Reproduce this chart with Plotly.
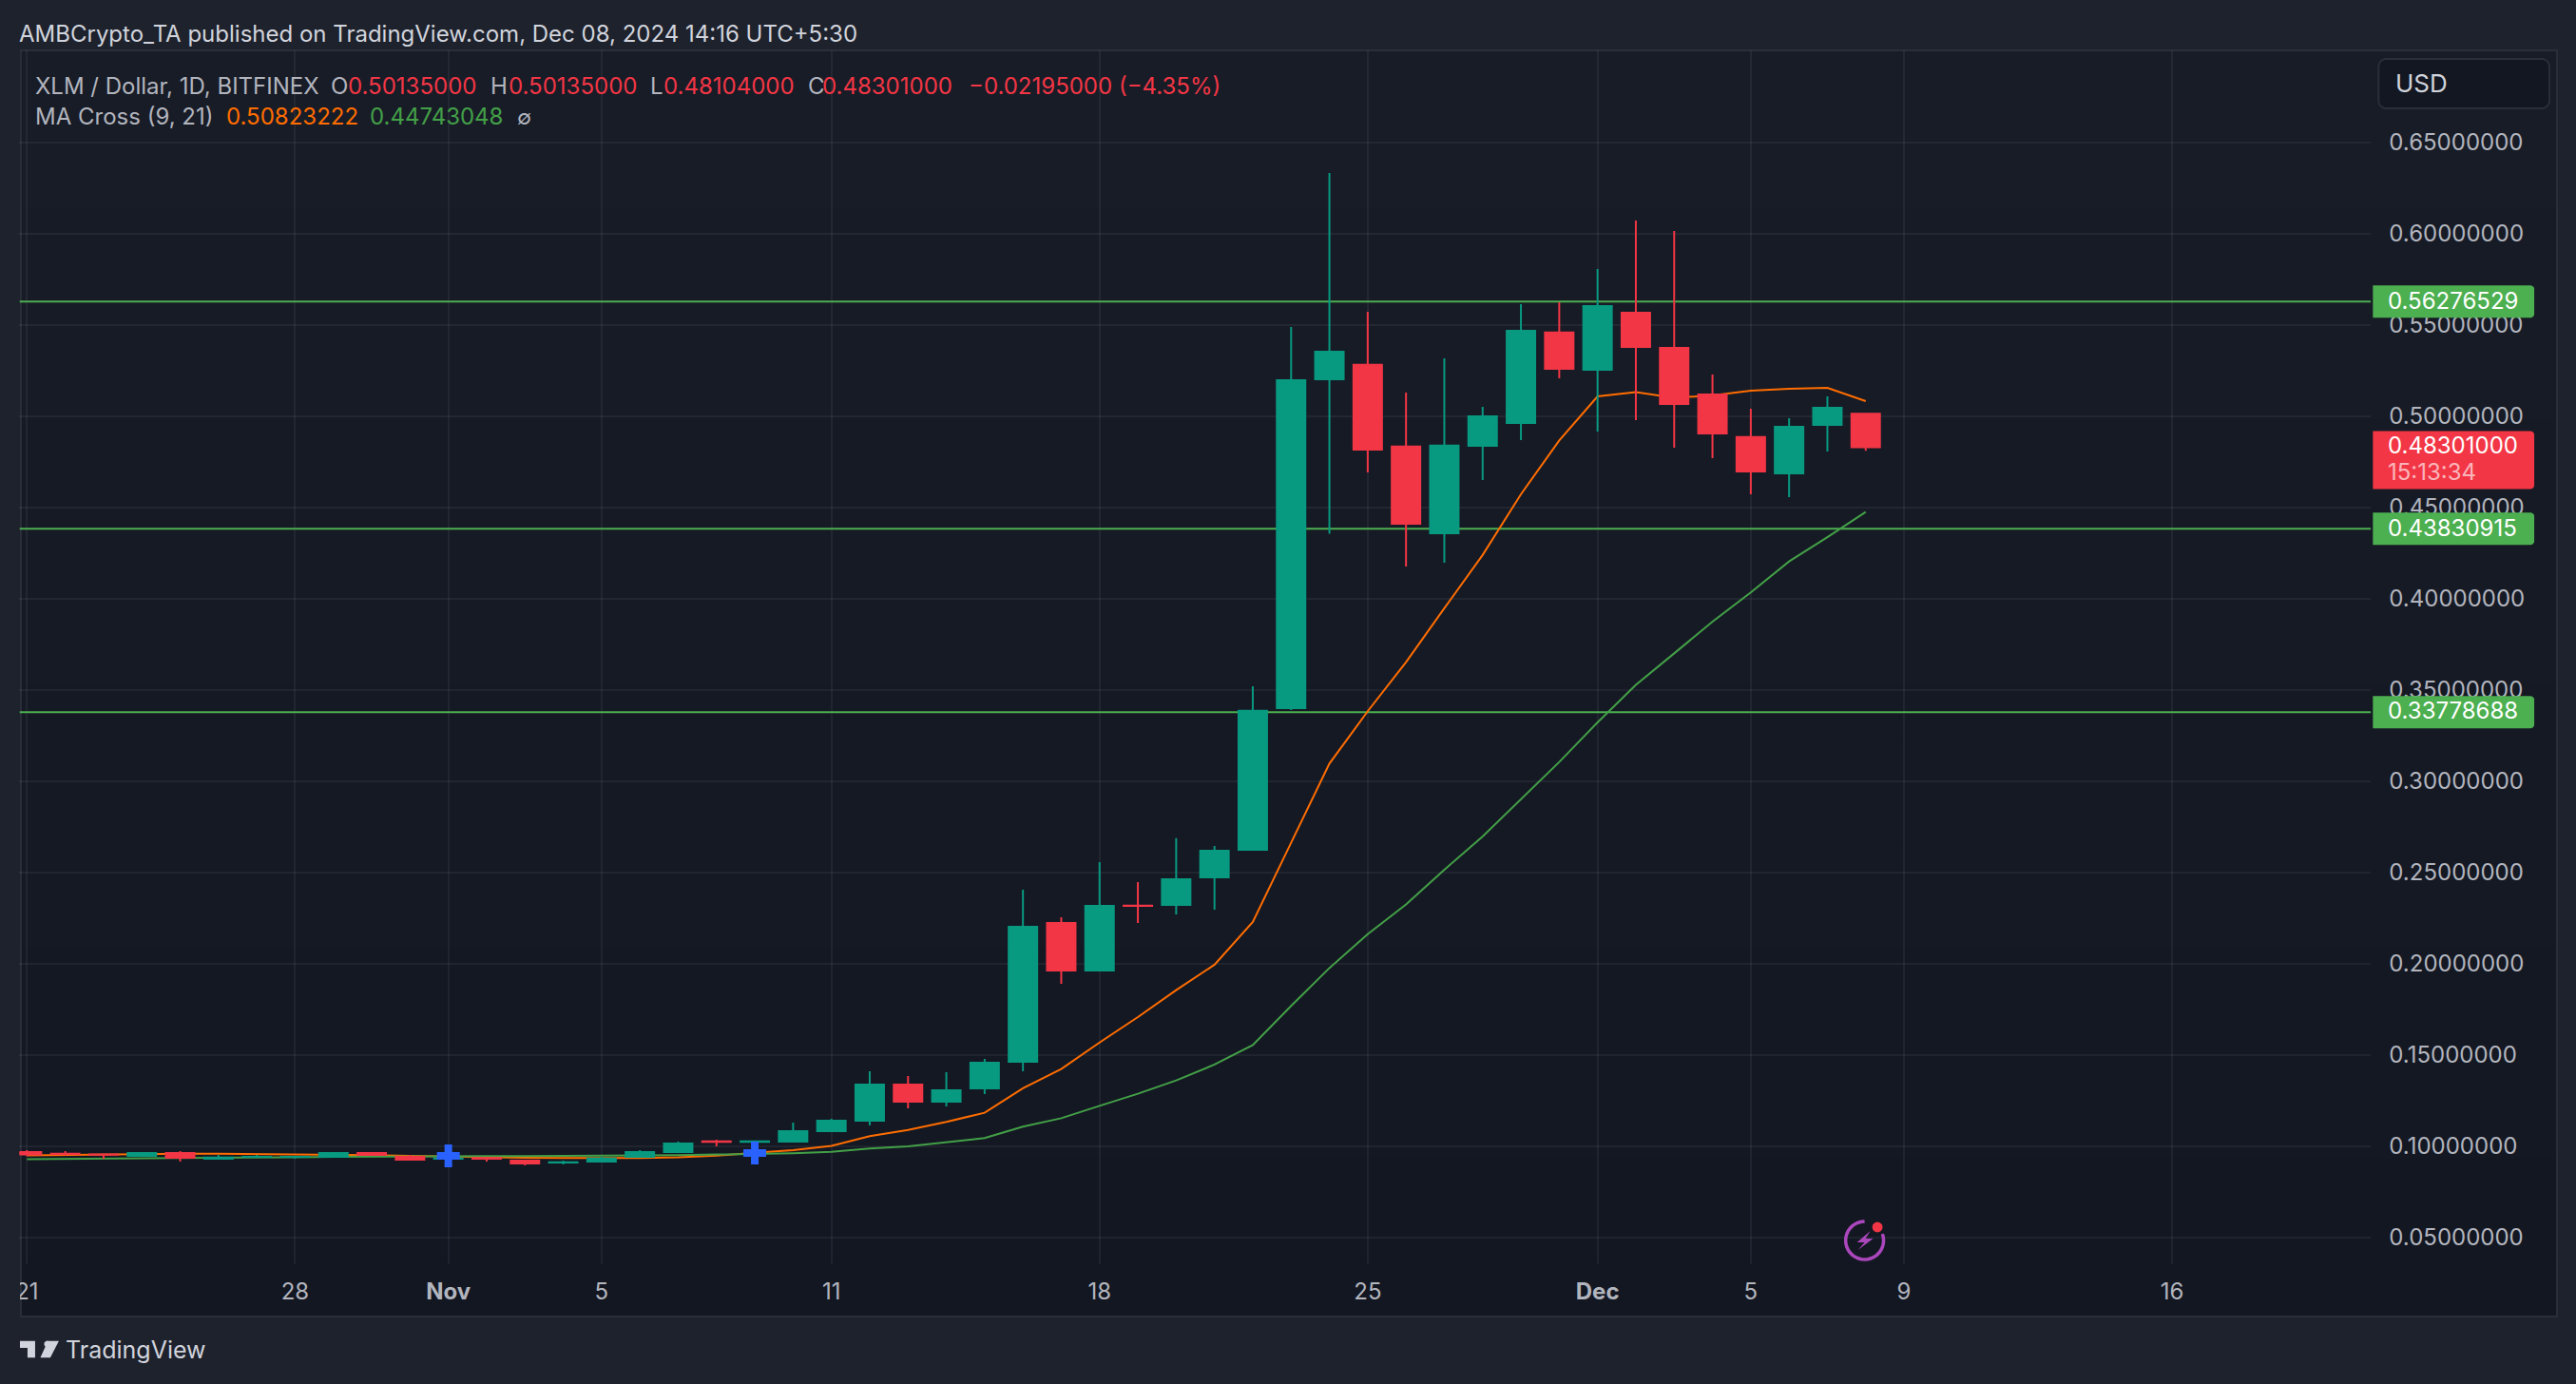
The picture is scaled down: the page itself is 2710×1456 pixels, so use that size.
import math
import plotly.graph_objects as go

W, H = 2710, 1456

dates = ["2024-10-21","2024-10-22","2024-10-23","2024-10-24","2024-10-25","2024-10-26","2024-10-27",
         "2024-10-28","2024-10-29","2024-10-30","2024-10-31","2024-11-01","2024-11-02","2024-11-03",
         "2024-11-04","2024-11-05","2024-11-06","2024-11-07","2024-11-08","2024-11-09","2024-11-10",
         "2024-11-11","2024-11-12","2024-11-13","2024-11-14","2024-11-15","2024-11-16","2024-11-17",
         "2024-11-18","2024-11-19","2024-11-20","2024-11-21","2024-11-22","2024-11-23","2024-11-24",
         "2024-11-25","2024-11-26","2024-11-27","2024-11-28","2024-11-29","2024-11-30","2024-12-01",
         "2024-12-02","2024-12-03","2024-12-04","2024-12-05","2024-12-06","2024-12-07","2024-12-08"]
opens = [.0968,.0958,.0955,.0947,.0963,.0931,.0941,.0941,.0941,.0963,.0942,.0931,.0935,.0921,
         .0910,.0915,.0942,.0967,.1026,.1024,.1025,.1082,.1139,.1338,.1243,.1316,.1462,.2223,
         .1962,.2318,.2322,.2473,.2624,.3400,.5202,.5281,.4833,.4358,.4837,.4962,.5458,.5254,
         .5567,.5374,.5119,.4885,.4686,.4952,.50135]
highs = [.0978,.0973,.0959,.0968,.0973,.0952,.0952,.0947,.0968,.0968,.0952,.0942,.0940,.0926,
         .0921,.0942,.0978,.1025,.1035,.1030,.1129,.1150,.1410,.1384,.1405,.1478,.2405,.2254,
         .2556,.2447,.2687,.2645,.3520,.5489,.6332,.5572,.5129,.5317,.5051,.5614,.5624,.5806,
         .6072,.6015,.5228,.5041,.4989,.5108,.50135]
lows = [.0945,.0950,.0930,.0942,.0916,.0926,.0936,.0931,.0936,.0947,.0921,.0911,.0916,.0895,
        .0900,.0910,.0937,.0962,.0999,.0999,.1020,.1077,.1114,.1207,.1218,.1285,.1410,.1890,
        .1957,.2223,.2270,.2296,.2619,.3390,.4355,.4692,.4176,.4197,.4650,.4869,.5207,.4916,
        .4978,.4827,.4770,.4572,.4556,.4806,.48104]
closes = [.0954,.0957,.0953,.0963,.0936,.0937,.0942,.0942,.0963,.0952,.0926,.0932,.0931,.0905,
          .0911,.0932,.0968,.1015,.1024,.1026,.1082,.1140,.1338,.1243,.1306,.1457,.2202,.1962,
          .2317,.2316,.2463,.2619,.3385,.5197,.5353,.4817,.4410,.4838,.4999,.5468,.5259,.5603,
          .5379,.5067,.4905,.4697,.4942,.5046,.48301]
ma9 = [.0950,.0953,.0955,.0957,.0959,.0958,.0957,.0955,.0953,.0951,.0947,.0943,.0940,.0936,
       .0935,.0934,.0935,.0939,.0948,.0964,.0978,.1002,.1055,.1089,.1133,.1183,.1317,.1423,
       .1568,.1707,.1855,.1994,.2228,.2662,.3096,.3383,.3652,.3947,.4239,.4572,.4867,.5108,
       .5131,.5100,.5114,.5140,.5150,.5155,.50823]
ma21 = [.0929,.0930,.0931,.0932,.0933,.0935,.0937,.0939,.0941,.0943,.0945,.0946,.0946,.0946,
        .0947,.0947,.0949,.0951,.0954,.0957,.0961,.0969,.0987,.0999,.1020,.1044,.1107,.1153,
        .1221,.1287,.1360,.1447,.1554,.1768,.1976,.2162,.2324,.2515,.2697,.2902,.3105,.3322,
        .3527,.3700,.3874,.4034,.4204,.4337,.44743]
level_values = [.56276529, .43830915, .33778688]
cross_dates = ["2024-11-01", "2024-11-09"]
cross_values = [.0947, .0962]
y_ticks = [.05,.10,.15,.20,.25,.30,.35,.40,.45,.50,.55,.60,.65]
x_tick_dates = ["2024-10-21","2024-10-28","2024-11-01","2024-11-05","2024-11-11","2024-11-18",
                "2024-11-25","2024-12-01","2024-12-05","2024-12-09","2024-12-16"]
x_tick_text = ["21","28","<b>Nov</b>","5","11","18","25","<b>Dec</b>","5","9","16"]

X_RANGE = ["2024-10-20 19:18", "2024-12-21 04:34"]
Y_RANGE = [0.0353, 0.7004]

BG = "#1e222d"
UP, DOWN = "#089981", "#F23645"
ORANGE, MAGREEN, LEVEL = "#FF6D00", "#43A047", "#4CAF50"
TXT, MUTED = "#d1d4dc", "#b2b5be"
FONT = "Inter, sans-serif"

px = lambda x: x / W
py = lambda y: 1 - y / H


def path(points, close=True):
    s = "M" + " L".join(f"{px(x):.6f},{py(y):.6f}" for x, y in points)
    return s + (" Z" if close else "")


def rounded(x0, y0, x1, y1, rl, rr):
    def arc(cx, cy, r, a0):
        return [(cx + r * math.cos(math.radians(a0 + i * 15)), cy + r * math.sin(math.radians(a0 + i * 15)))
                for i in range(7)] if r else [(cx, cy)]
    pts = arc(x0 + rl, y0 + rl, rl, 180) + arc(x1 - rr, y0 + rr, rr, 270) + arc(x1 - rr, y1 - rr, rr, 0) + arc(x0 + rl, y1 - rl, rl, 90)
    return path(pts)


shapes = []
# chart background gradient
BANDS = 24
for i in range(BANDS):
    t = i / (BANDS - 1)
    col = f"rgb({round(24 - 5 * t)},{round(28 - 5 * t)},{round(39 - 5 * t)})"
    y0 = 53 + (1385 - 53) * i / BANDS
    y1 = 53 + (1385 - 53) * (i + 1) / BANDS + 1
    shapes.append(dict(type="rect", xref="paper", yref="paper", x0=px(18), x1=px(2690), y0=py(y1), y1=py(y0),
                       fillcolor=col, line_width=0, layer="below"))
shapes.append(dict(type="rect", xref="paper", yref="paper", x0=px(18), x1=px(2690), y0=py(1385), y1=py(53),
                   line=dict(color="#2a2e39", width=2), fillcolor="rgba(0,0,0,0)", layer="below"))
# mask that clips the first date label at the chart edge
shapes.append(dict(type="rect", xref="paper", yref="paper", x0=0, x1=px(17), y0=py(1384), y1=py(1335),
                   fillcolor=BG, line_width=0, layer="above"))


def shp(d, fill, line=None, layer="above"):
    return dict(type="path", xref="paper", yref="paper", path=d, fillcolor=fill,
                line=dict(color=line or fill, width=2 if line else 0), layer=layer)


# price labels
for v in level_values:
    yc = 149.8 + (0.65 - v) * 1920
    shapes.append(shp(rounded(2496, yc - 17, 2666, yc + 17, 0, 4), LEVEL))
shapes.append(shp(rounded(2496, 453.5, 2666, 514.5, 0, 4), DOWN))
# currency button
shapes.append(shp(rounded(2502, 62, 2682, 114, 8, 8), "#131722", "#2a2e39"))
# TradingView logo
LOGO = "#d1d4dc"
shapes.append(shp(path([(17, 1410.7), (33, 1410.7), (33, 1428.3), (25, 1428.3), (25, 1418), (17, 1418)]), LOGO))
shapes.append(shp(path([(46 + 3.5 * math.cos(a / 12 * 2 * math.pi), 1414 + 3.5 * math.sin(a / 12 * 2 * math.pi)) for a in range(12)]), LOGO))
shapes.append(shp(path([(46.5, 1410.7), (58, 1410.7), (49, 1428.3), (38.5, 1428.3)]), LOGO))
# alert icon
arc = [(1960.5 + 20 * math.cos(math.radians(a)), 1305 + 20 * math.sin(math.radians(a))) for a in range(-20, 280, 10)]
shapes.append(dict(type="path", xref="paper", yref="paper", path=path(arc, close=False), line=dict(color="#AB47BC", width=3.5),
                   fillcolor="rgba(0,0,0,0)", layer="above"))
shapes.append(shp(path([(1966.5, 1295), (1952.5, 1307), (1960.5, 1307), (1953.5, 1315), (1969.5, 1303), (1961.5, 1303)]), "#AB47BC"))
shapes.append(shp(path([(1974 + 5.5 * math.cos(a / 12 * 2 * math.pi), 1291 + 5.5 * math.sin(a / 12 * 2 * math.pi)) for a in range(12)]), DOWN))

texts = [
    ("AMBCrypto_TA published on TradingView.com, Dec 08, 2024 14:16 UTC+5:30", 16.5, 35, TXT, 24),
    ("XLM / Dollar, 1D, BITFINEX", 33, 90, MUTED, 24),
    ("O", 344.5, 90, MUTED, 24), ("0.50135000", 362.5, 90, DOWN, 24),
    ("H", 513, 90, MUTED, 24), ("0.50135000", 531.5, 90, DOWN, 24),
    ("L", 681.5, 90, MUTED, 24), ("0.48104000", 695.5, 90, DOWN, 24),
    ("C", 847.5, 90, MUTED, 24), ("0.48301000", 862.5, 90, DOWN, 24),
    ("−0.02195000 (−4.35%)", 1017, 90, DOWN, 24),
    ("MA Cross (9, 21)", 33, 122.5, MUTED, 24),
    ("0.50823222", 234, 122.5, ORANGE, 24), ("0.44743048", 385.5, 122.5, MAGREEN, 24), ("∅", 540.5, 122.5, MUTED, 22),
    ("USD", 2519.5, 87, TXT, 26),
    ("0.56276529", 2511.5, 316, "#ffffff", 24), ("0.43830915", 2511.5, 555, "#ffffff", 24),
    ("0.33778688", 2511.5, 748, "#ffffff", 24),
    ("0.48301000", 2511.5, 468.5, "#ffffff", 24), ("15:13:34", 2511.5, 496.5, "rgba(255,255,255,0.65)", 24),
    ("TradingView", 65, 1419.5, TXT, 25),
]
annotations = [dict(text=t, x=px(x), y=py(y), xref="paper", yref="paper", xanchor="left", yanchor="middle",
                    showarrow=False, borderpad=0, borderwidth=0, font=dict(family=FONT, size=s, color=c))
               for t, x, y, c, s in texts]

fig = go.Figure()
for v in level_values:
    fig.add_trace(go.Scatter(x=X_RANGE, y=[v, v], mode="lines", line=dict(color=LEVEL, width=2),
                             xaxis="x", yaxis="y", hoverinfo="skip", showlegend=False))
fig.add_trace(go.Scatter(x=dates, y=ma9, mode="lines", line=dict(color=ORANGE, width=2), xaxis="x", yaxis="y", showlegend=False))
fig.add_trace(go.Scatter(x=dates, y=ma21, mode="lines", line=dict(color=MAGREEN, width=2), xaxis="x", yaxis="y", showlegend=False))
fig.add_trace(go.Candlestick(x=dates, open=opens, high=highs, low=lows, close=closes, xaxis="x2", yaxis="y2",
                             increasing=dict(line=dict(color=UP, width=2), fillcolor=UP),
                             decreasing=dict(line=dict(color=DOWN, width=2), fillcolor=DOWN),
                             whiskerwidth=0, showlegend=False))
fig.add_trace(go.Scatter(x=cross_dates, y=cross_values, mode="markers", xaxis="x2", yaxis="y2", showlegend=False,
                         marker=dict(symbol="cross", size=20, color="#2962FF", line_width=0)))

GRID = "rgba(240,243,250,0.06)"
dom_x = [px(16.5), px(2494)]
dom_y = [py(1330), py(53)]
fig.update_layout(
    width=W, height=H, autosize=False, margin=dict(l=0, r=0, t=0, b=0),
    paper_bgcolor=BG, plot_bgcolor="rgba(0,0,0,0)", showlegend=False, boxgap=0.256, boxgroupgap=0,
    shapes=shapes, annotations=annotations,
    xaxis=dict(type="date", domain=dom_x, range=X_RANGE, tickmode="array", tickvals=x_tick_dates, ticktext=x_tick_text,
               tickangle=0, showgrid=True, gridcolor=GRID, gridwidth=2, zeroline=False, showline=False, ticks="",
               tickfont=dict(family=FONT, size=24, color=MUTED), ticklabelstandoff=12, rangeslider=dict(visible=False)),
    yaxis=dict(domain=dom_y, range=Y_RANGE, side="right", tickmode="array", tickvals=y_ticks, tickformat=".8f",
               showgrid=True, gridcolor=GRID, gridwidth=2, zeroline=False, showline=False, ticks="",
               tickfont=dict(family=FONT, size=24, color=MUTED), ticklabelstandoff=18),
    xaxis2=dict(type="date", overlaying="x", range=X_RANGE, visible=False, rangeslider=dict(visible=False), anchor="y2"),
    yaxis2=dict(overlaying="y", range=Y_RANGE, visible=False, anchor="x2", side="right"),
)
fig.write_html("out.html", config=dict(displayModeBar=False),
               post_script="document.body.style.margin='0';document.body.style.overflow='hidden';")
